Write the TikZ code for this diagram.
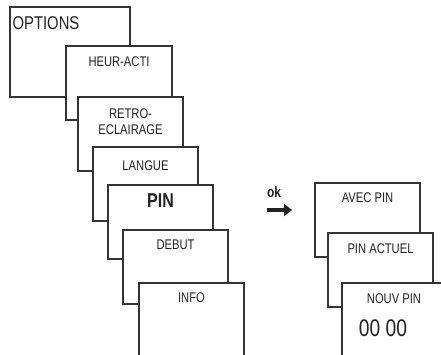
\documentclass[tikz,border=0pt]{standalone}
\usepackage{fontspec}
\setmainfont{Liberation Sans}[FakeStretch=0.8]
\usetikzlibrary{arrows.meta}
\definecolor{ink}{HTML}{222222}
\definecolor{edge}{HTML}{333333}
\tikzset{
  x=1pt, y=-1pt,
  card/.style={draw=edge, line width=1.1pt, fill=white, rectangle, inner sep=0pt, outer sep=0pt,
    anchor=north west, minimum width=105pt, minimum height=74pt},
  lbl/.style={text=ink, font=\fontsize{14}{16}\selectfont, align=center, inner sep=0pt, anchor=center},
}
\begin{document}
\begin{tikzpicture}
\useasboundingbox (0,0) rectangle (441,355);
\clip (0,0) rectangle (441,355);
\fill[white] (0,0) rectangle (441,355);
% left stack
\node[card, minimum width=120pt, minimum height=90pt] (opt) at (10,7) {};
\node[lbl, anchor=west, font=\fontsize{18.5}{20}\selectfont] (toptions) at ([xshift=2.5pt,yshift=-16pt]opt.north west) {OPTIONS};
\node[card, minimum width=106pt] (heur) at (66,46) {};
\node[lbl] (theur) at ([yshift=-16pt]heur.north) {HEUR-ACTI};
\node[card] (retro) at (78,97) {};
\node[lbl] (tretro) at ([yshift=-24.5pt]retro.north) {RETRO-\\ECLAIRAGE};
\node[card] (langue) at (93,147) {};
\node[lbl] (tlangue) at ([yshift=-18.5pt]langue.north) {LANGUE};
\node[card] (pin) at (108,185) {};
\node[lbl, font=\fontsize{20}{22}\bfseries\selectfont] (tpin) at ([yshift=-15.5pt]pin.north) {PIN};
\node[card] (debut) at (123,230) {};
\node[lbl] (tdebut) at ([yshift=-15pt]debut.north) {DEBUT};
\node[card, minimum height=110pt] (info) at (139,283) {};
\node[lbl] (tinfo) at ([yshift=-15pt]info.north) {INFO};
% ok arrow
\node[lbl, font=\fontsize{15}{18}\bfseries\selectfont] (ok) at (274,192) {ok};
\coordinate (as) at (267,210);
\coordinate (ae) at (292,210);
\draw[ink, line width=4.5pt, -{Triangle[length=8pt,width=12pt]}] (as) -- (ae);
% right stack
\node[card] (avec) at (315,183) {};
\node[lbl] (tavec) at ([yshift=-15pt]avec.north) {AVEC PIN};
\node[card] (actuel) at (328,233) {};
\node[lbl] (tactuel) at ([yshift=-16pt]actuel.north) {PIN ACTUEL};
\node[card, minimum width=104pt, minimum height=90pt] (nouv) at (342,283) {};
\node[lbl] (tnouv) at ([yshift=-16pt]nouv.north) {NOUV PIN};
\node[lbl, font=\fontsize{24}{26}\selectfont] (code) at (383,328) {00 00};
\end{tikzpicture}
\end{document}
